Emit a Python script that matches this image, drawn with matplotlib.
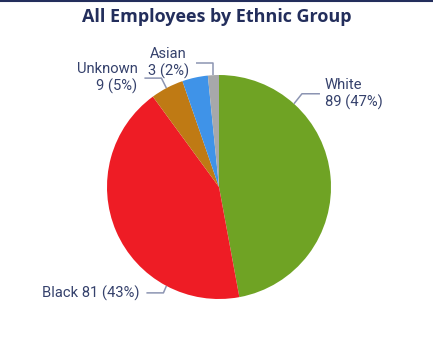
import numpy as np
import matplotlib
matplotlib.use("Agg")
import matplotlib.pyplot as plt

# data
groups = ["White", "Black", "Unknown", "Other", "Asian"]
counts = [89, 81, 9, 7, 3]
colors = ["#6FA324", "#EE1C25", "#BF7A14", "#3F93E8", "#A7A8AA"]
show_label = [True, True, True, False, True]

NAVY = "#232E5C"
TXT = "#35416C"
LEAD = "#8C94B2"

W, H = 433, 342
fig = plt.figure(figsize=(W / 100, H / 100), dpi=100, facecolor="white")
ax = fig.add_axes([0, 0, 1, 1])

# pie geometry (pixels, y up)
cx, cy, r = 219, H - 187, 112
ax.pie(counts, colors=colors, startangle=90, counterclock=False,
       center=(cx, cy), radius=r, frame=True,
       wedgeprops=dict(linewidth=0))
ax.set_xlim(0, W)
ax.set_ylim(0, H)
ax.set_aspect("equal")
ax.axis("off")

total = sum(counts)

def edge(angle):
    # angle measured clockwise from 12 o'clock
    a = np.radians(angle)
    return cx + r * np.sin(a), cy + r * np.cos(a)

# leader layout: start angle, elbow offset, horizontal run, text side
layout = {
    "White":   dict(ang=42,  elbow=(8, 10),  run=18,  side="left", two=True),
    "Black":   dict(ang=208, elbow=(-3, -7), run=-17, side="right", two=False),
    "Unknown": dict(ang=332, elbow=(-5, 10), run=-17, side="right", two=True),
    "Asian":   dict(ang=357, elbow=(0, 12),  run=-17, side="right", two=True),
}

for name, n, show in zip(groups, counts, show_label):
    if not show:
        continue
    L = layout[name]
    x0, y0 = edge(L["ang"])
    x1, y1 = x0 + L["elbow"][0], y0 + L["elbow"][1]
    x2 = x1 + L["run"]
    ax.plot([x0, x1, x2], [y0, y1, y1], color=LEAD, lw=1.1,
            solid_capstyle="butt", zorder=3)
    pct = round(100 * n / total)
    if L["two"]:
        label = f"{name}\n{n} ({pct}%)"
    else:
        label = f"{name} {n} ({pct}%)"
    if L["side"] == "left":
        ax.text(x2 + 5, y1, label, ha="left", va="center", color=TXT,
                fontsize=10.6, family="Roboto", linespacing=1.2)
    else:
        ma = "center" if name == "Asian" else "right"
        ax.text(x2 - 7, y1, label, ha="right", va="center", color=TXT,
                fontsize=10.6, family="Roboto", linespacing=1.2,
                multialignment=ma)

fig.text(0.5, 1 - 17 / H, "All Employees by Ethnic Group", ha="center",
         va="center", color=NAVY, fontsize=13, fontweight="bold",
         family="Open Sans")

# top rule
fig.add_artist(plt.Line2D([0, 1], [1 - 0.5 / H, 1 - 0.5 / H],
                          transform=fig.transFigure, color=NAVY, lw=1.5))

fig.savefig("out.png", dpi=100, facecolor="white")
